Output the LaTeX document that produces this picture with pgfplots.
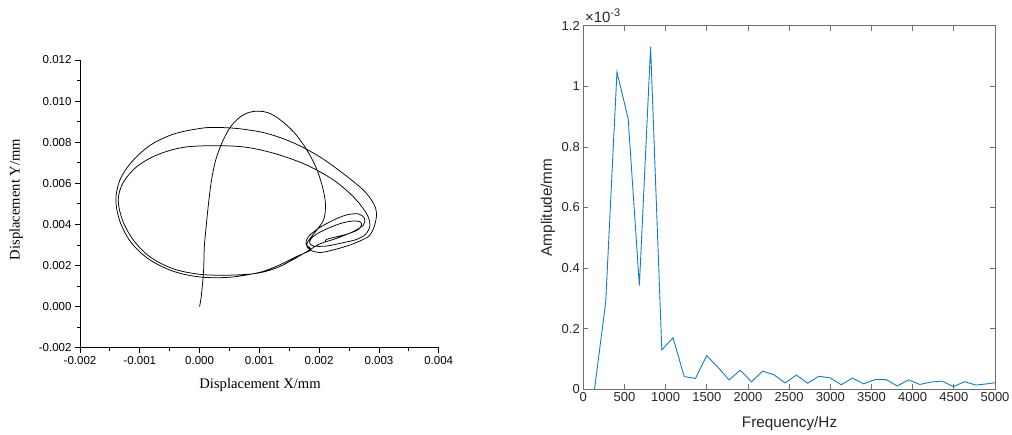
\documentclass[border=0pt]{standalone}
\usepackage{fontspec}
\setmainfont{Liberation Sans}
\newfontfamily\timesfont{Liberation Serif}
\usepackage{pgfplots}
\pgfplotsset{compat=1.18}
\definecolor{mblue}{RGB}{20,124,196}
\definecolor{mframe}{RGB}{110,110,110}
\definecolor{mtext}{RGB}{38,38,38}

\begin{document}
\begin{tikzpicture}
\useasboundingbox (0pt,0pt) rectangle (1012pt,435pt);

% ---------- Axis orbit (left) ----------
\begin{axis}[
  at={(80pt,87.3pt)}, anchor=south west,
  scale only axis, width=358.7pt, height=287.7pt,
  xmin=-0.002, xmax=0.004, ymin=-0.002, ymax=0.012,
  axis lines*=left,
  axis line style={black, line width=0.8pt},
  xtick={-0.002,-0.001,0,0.001,0.002,0.003,0.004},
  ytick={-0.002,0,0.002,0.004,0.006,0.008,0.010,0.012},
  minor x tick num=1, minor y tick num=1,
  tick align=outside,
  major tick length=5pt, minor tick length=3pt,
  every tick/.style={black, line width=0.8pt},
  scaled ticks=false,
  ticklabel style={font=\fontsize{11.5}{13}\selectfont},
  xticklabel style={/pgf/number format/.cd, fixed, fixed zerofill, precision=3, assume math mode=true},
  yticklabel style={/pgf/number format/.cd, fixed, fixed zerofill, precision=3, assume math mode=true},
  xlabel={Displacement X/mm}, ylabel={Displacement Y/mm},
  label style={font=\timesfont\fontsize{14.6}{16}\selectfont},
  xlabel style={at={(axis description cs:0.502,-0.13)}, anchor=center},
  ylabel style={at={(axis description cs:-0.178,0.515)}, anchor=center},
]
\addplot[black, line width=0.75pt, smooth, tension=0.55] coordinates {
(0.00000,0.00000) (0.00002,0.00032) (0.00004,0.00081) (0.00006,0.00146)
(0.00007,0.00194) (0.00008,0.00292) (0.00011,0.00389) (0.00015,0.00502)
(0.00020,0.00616) (0.00027,0.00713) (0.00037,0.00794) (0.00050,0.00867)
(0.00065,0.00916) (0.00081,0.00943) (0.00098,0.00951) (0.00115,0.00943)
(0.00134,0.00911) (0.00157,0.00851) (0.00176,0.00778) (0.00193,0.00689)
(0.00204,0.00600) (0.00210,0.00519) (0.00210,0.00454) (0.00206,0.00413)
(0.00196,0.00373) (0.00185,0.00332) (0.00179,0.00300) (0.00186,0.00276)
(0.00162,0.00243) (0.00134,0.00203) (0.00101,0.00167) (0.00051,0.00143)
(0.00001,0.00144) (-0.00044,0.00172) (-0.00084,0.00229) (-0.00114,0.00310)
(-0.00133,0.00413) (-0.00140,0.00519) (-0.00133,0.00618) (-0.00113,0.00706)
(-0.00082,0.00786) (-0.00043,0.00840) (0.00001,0.00867) (0.00028,0.00872)
(0.00068,0.00865) (0.00112,0.00843) (0.00157,0.00797) (0.00201,0.00729)
(0.00240,0.00648) (0.00274,0.00567) (0.00291,0.00502) (0.00296,0.00454)
(0.00293,0.00397) (0.00285,0.00348) (0.00274,0.00327)
(0.00252,0.00300) (0.00224,0.00276) (0.00201,0.00263) (0.00185,0.00276)
(0.00178,0.00305) (0.00182,0.00340) (0.00199,0.00381) (0.00224,0.00421)
(0.00246,0.00446) (0.00266,0.00451) (0.00276,0.00429) (0.00274,0.00397)
(0.00257,0.00365) (0.00229,0.00332) (0.00201,0.00305) (0.00182,0.00272)
(0.00160,0.00235) (0.00132,0.00192) (0.00098,0.00163) (0.00051,0.00153)
(0.00001,0.00157) (-0.00044,0.00184) (-0.00083,0.00242) (-0.00111,0.00325)
(-0.00129,0.00421) (-0.00136,0.00519) (-0.00128,0.00602) (-0.00105,0.00681)
(-0.00071,0.00738) (-0.00027,0.00775) (0.00028,0.00783) (0.00079,0.00775)
(0.00129,0.00742) (0.00179,0.00689) (0.00224,0.00616) (0.00257,0.00535)
(0.00279,0.00454) (0.00285,0.00397) (0.00278,0.00353) (0.00263,0.00327)
(0.00240,0.00311) (0.00213,0.00295) (0.00190,0.00295) (0.00184,0.00316)
(0.00193,0.00348) (0.00215,0.00381) (0.00240,0.00408) (0.00262,0.00417)
(0.00271,0.00405) (0.00266,0.00376) (0.00246,0.00352) (0.00218,0.00332)
(0.00211,0.00324) (0.00210,0.00313)
};
\end{axis}

% ---------- Amplitude spectrum (right) ----------
\begin{axis}[
  name=spec,
  at={(583.3pt,45.7pt)}, anchor=south west,
  scale only axis, width=411.7pt, height=363.6pt,
  xmin=0, xmax=5000, ymin=0, ymax=0.0012,
  xtick={0,500,1000,1500,2000,2500,3000,3500,4000,4500,5000},
  ytick={0,0.0002,0.0004,0.0006,0.0008,0.001,0.0012},
  yticklabels={0,0.2,0.4,0.6,0.8,1,1.2},
  scaled ticks=false,
  tick align=inside, major tick length=5pt,
  axis line style={mframe, line width=0.7pt},
  every tick/.style={mframe, line width=0.7pt},
  ticklabel style={mtext, font=\fontsize{13}{15}\selectfont},
  xticklabel style={/pgf/number format/.cd, 1000 sep={}, assume math mode=true},
  xlabel={Frequency/Hz}, ylabel={Amplitude/mm},
  label style={mtext, font=\fontsize{15.3}{17}\selectfont},
  xlabel style={at={(axis description cs:0.501,-0.093)}, anchor=center},
  ylabel style={at={(axis description cs:-0.086,0.5)}, anchor=center},
]
\addplot[mblue, line width=0.9pt] coordinates {
(136.2,0.000000) (272.4,0.000289) (408.6,0.001047) (544.8,0.000893)
(681.0,0.000342) (817.2,0.001130) (953.4,0.000130) (1089.6,0.000170)
(1225.8,0.000042) (1362.0,0.000036) (1498.2,0.000111) (1634.4,0.000073)
(1770.6,0.000031) (1906.8,0.000063) (2043.0,0.000025) (2179.2,0.000060)
(2315.4,0.000048) (2451.6,0.000021) (2587.8,0.000047) (2724.0,0.000020)
(2860.2,0.000043) (2996.4,0.000038) (3132.6,0.000015) (3268.8,0.000037)
(3405.0,0.000018) (3541.2,0.000032) (3677.4,0.000032) (3813.6,0.000011)
(3949.8,0.000031) (4086.0,0.000016) (4222.2,0.000024) (4358.4,0.000027)
(4494.6,0.000009) (4630.8,0.000025) (4767.0,0.000014) (4903.2,0.000018)
(5039.4,0.000023)
};
\end{axis}
% power-of-ten factor for the amplitude axis
\node[anchor=base west, text=mtext, inner sep=0pt]
  at ([xshift=1.5pt,yshift=3.5pt]spec.north west)
  {\fontsize{15}{17}\selectfont ×10\raisebox{6pt}{\fontsize{11}{13}\selectfont -3}};
\end{tikzpicture}
\end{document}
